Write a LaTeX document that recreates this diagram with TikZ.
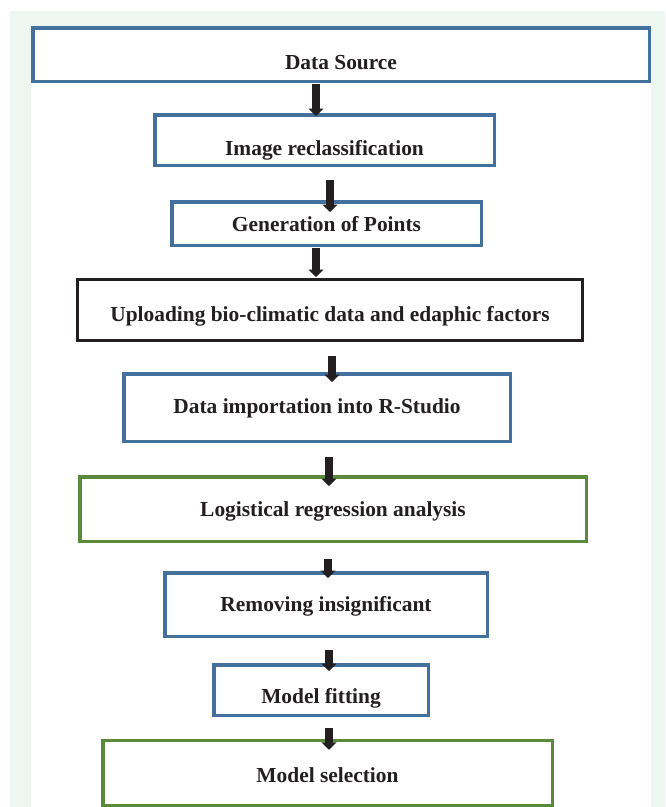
\documentclass[tikz,border=0pt]{standalone}
\usepackage{fontspec}
\setmainfont{Liberation Serif}
\usepackage{tikz}
\usetikzlibrary{calc,arrows.meta,positioning}
\definecolor{cPanel}{HTML}{EEF6F1}
\definecolor{cBlue}{HTML}{44709D}
\definecolor{cGreen}{HTML}{5A8A3C}
\definecolor{cInk}{HTML}{231F20}
\tikzset{
  stage/.style={rectangle,draw=cBlue,line width=3.5pt,fill=white,inner sep=0pt,
    font=\fontsize{21.4}{25}\selectfont\bfseries,text=cInk},
  gstage/.style={stage,draw=cGreen},
  kstage/.style={stage,draw=cInk,line width=3pt},
  ty/.style={text height=#1,text depth=0pt},
  flow/.style={-{Triangle[length=7.5pt,width=15pt]},line width=7.5pt,cInk},
}
\begin{document}
\begin{tikzpicture}[x=1pt,y=-1pt]
  \useasboundingbox (0,0) rectangle (665,807);
  % ---------------- background panels
  \fill[cPanel] (10,11) rectangle (665,807);
  \fill[white] (31,26) rectangle (651,807);
  % ---------------- the stages
  \node[stage,ty=29pt,minimum width=616.5pt,minimum height=53.5pt] (ds) at (341,54.5) {Data Source};
  \node[stage,ty=30pt,minimum width=339.5pt,minimum height=50.5pt] (ir) at (324.5,140) {Image reclassification};
  \node[stage,ty=15pt,minimum width=309.5pt,minimum height=43.5pt] (gp) at (326.5,223.5) {Generation of Points};
  \node[kstage,ty=22pt,minimum width=505pt,minimum height=61pt] (up) at (330,310) {Uploading bio-climatic data and edaphic factors};
  \node[stage,ty=12pt,minimum width=386.5pt,minimum height=67.5pt] (di) at (317,407.5) {Data importation into R-Studio};
  \node[gstage,ty=14pt,minimum width=506.5pt,minimum height=64.5pt] (lr) at (333,509) {Logistical regression analysis};
  \node[stage,ty=13pt,minimum width=322.5pt,minimum height=63.5pt] (ri) at (326,604.5) {Removing insignificant};
  \node[stage,ty=26pt,minimum width=214.5pt,minimum height=50.5pt] (mf) at (321,690) {Model fitting};
  \node[gstage,ty=18pt,minimum width=449.5pt,minimum height=65pt] (ms) at (327.5,773) {Model selection};
  % ---------------- arrows between stages
  \foreach \a/\b/\x/\s/\e in {ds/ir/316/1/3,ir/gp/330/13/12,gp/up/316/1/-1,up/di/332/14/10,
    di/lr/329/14/11,lr/ri/328/16/7,ri/mf/329/12/8,mf/ms/329/11/11}{
    \draw[flow] ($(\a.south -| \x,0)+(0,\s)$) -- ($(\b.north -| \x,0)+(0,\e)$);
  }
\end{tikzpicture}
\end{document}
